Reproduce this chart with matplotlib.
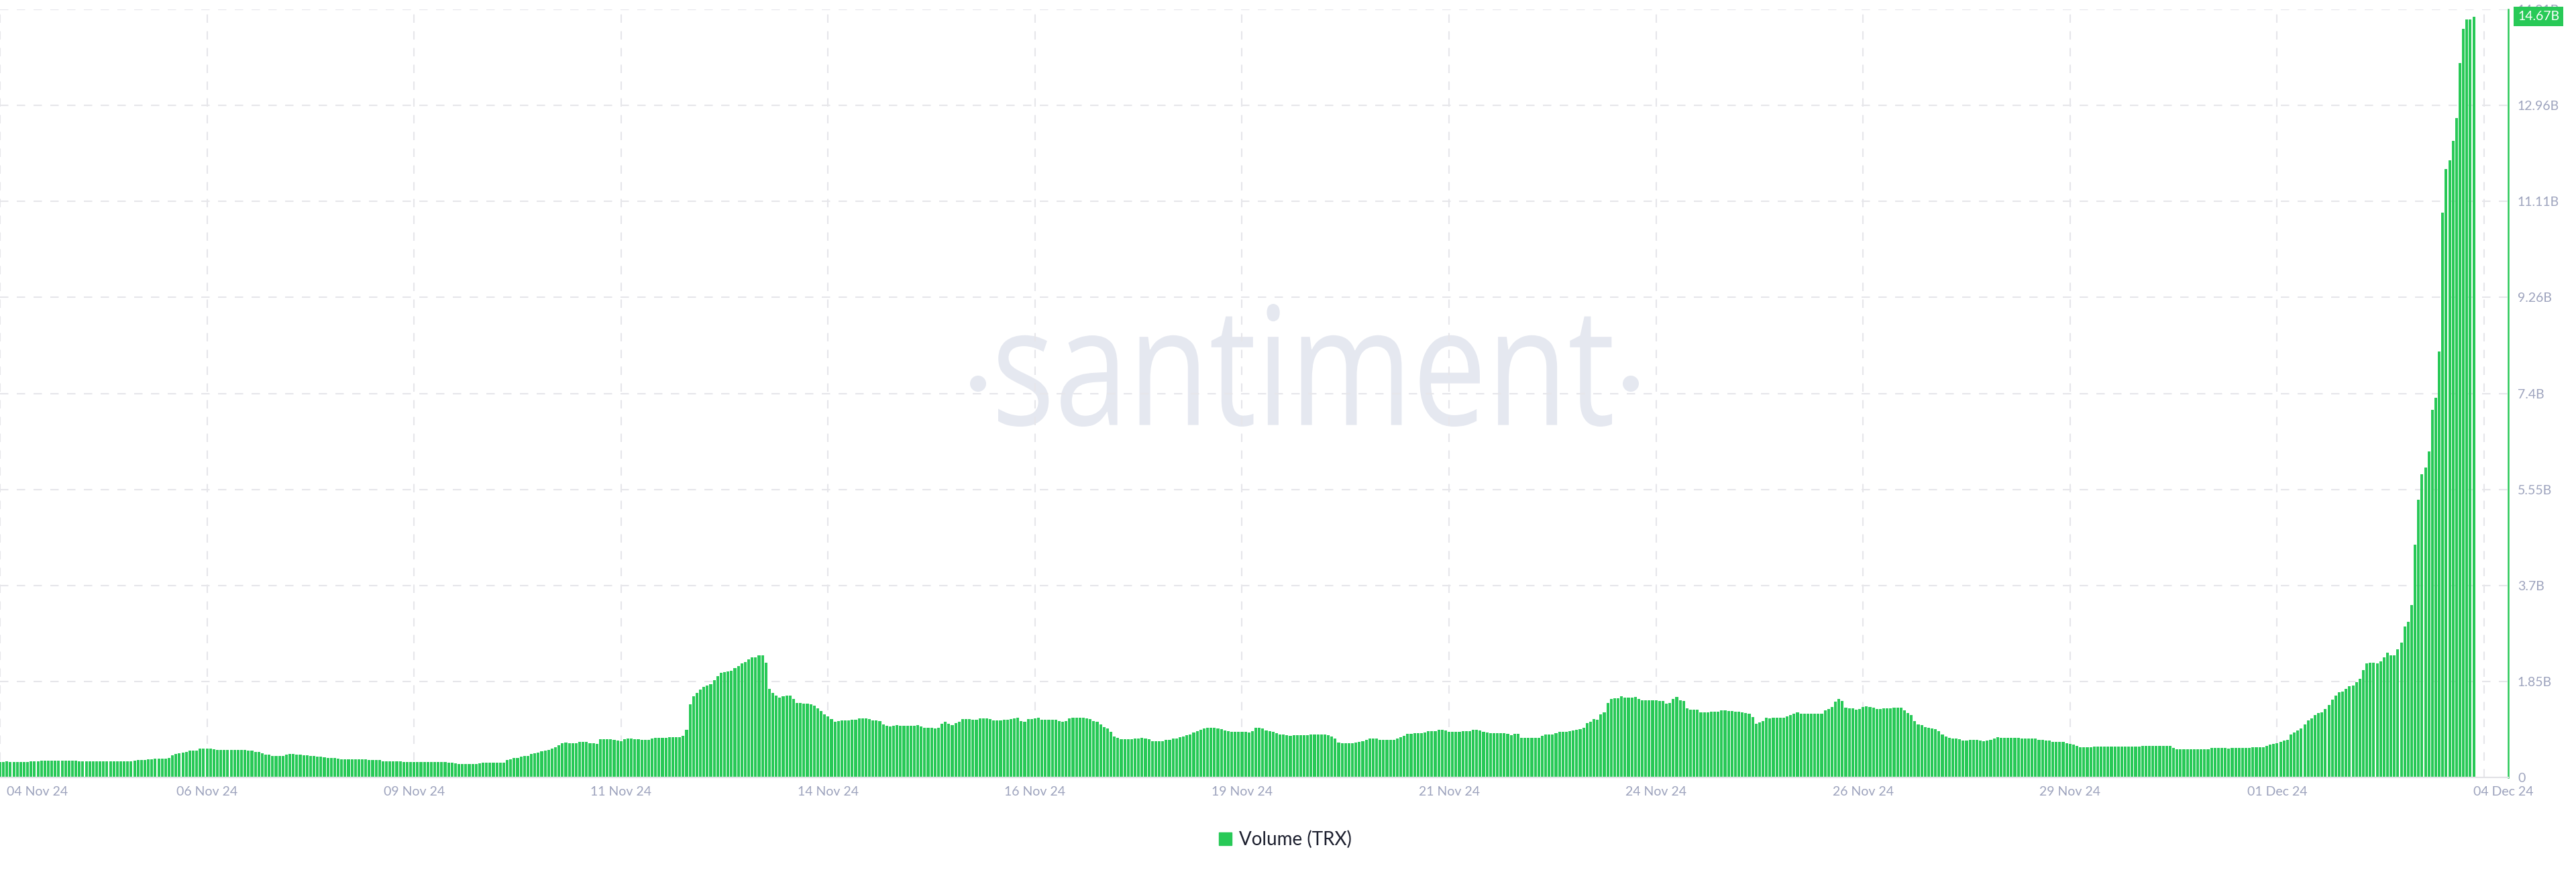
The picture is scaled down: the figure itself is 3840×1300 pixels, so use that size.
import numpy as np
import matplotlib
matplotlib.use('Agg')
import matplotlib.pyplot as plt
import matplotlib.transforms as mtransforms
from matplotlib.patches import Rectangle, PathPatch, Circle
from matplotlib.textpath import TextPath
from matplotlib.font_manager import FontProperties

# hourly TRX volume in billions, 04 Nov 24 00:00 onwards (one line per day)
volume_b = [
    0.30, 0.30, 0.315, 0.295, 0.293, 0.293, 0.295, 0.297, 0.298, 0.305, 0.31, 0.315, 0.32, 0.322, 0.323, 0.323, 0.322, 0.321, 0.32, 0.322, 0.323, 0.32, 0.318, 0.316,
    0.315, 0.314, 0.31, 0.307, 0.306, 0.306, 0.308, 0.31, 0.31, 0.31, 0.31, 0.31, 0.31, 0.312, 0.315, 0.32, 0.33, 0.335, 0.34, 0.345, 0.355, 0.36, 0.36, 0.36,
    0.362, 0.37, 0.427, 0.448, 0.461, 0.474, 0.496, 0.517, 0.517, 0.52, 0.552, 0.556, 0.556, 0.554, 0.543, 0.53, 0.526, 0.526, 0.526, 0.526, 0.526, 0.526, 0.528, 0.526,
    0.52, 0.513, 0.49, 0.487, 0.46, 0.44, 0.44, 0.414, 0.414, 0.414, 0.41, 0.44, 0.448, 0.448, 0.445, 0.44, 0.43, 0.427, 0.42, 0.41, 0.40, 0.395, 0.39, 0.38,
    0.375, 0.37, 0.36, 0.355, 0.355, 0.355, 0.355, 0.355, 0.353, 0.352, 0.35, 0.342, 0.342, 0.342, 0.34, 0.315, 0.31, 0.308, 0.308, 0.306, 0.305, 0.30, 0.297, 0.296,
    0.295, 0.295, 0.295, 0.295, 0.295, 0.296, 0.296, 0.295, 0.294, 0.292, 0.29, 0.282, 0.27, 0.262, 0.258, 0.256, 0.256, 0.256, 0.258, 0.273, 0.286, 0.29, 0.29, 0.29,
    0.29, 0.29, 0.29, 0.33, 0.355, 0.37, 0.38, 0.40, 0.41, 0.42, 0.455, 0.47, 0.485, 0.507, 0.52, 0.53, 0.55, 0.585, 0.624, 0.654, 0.667, 0.665, 0.66, 0.66,
    0.68, 0.69, 0.69, 0.66, 0.655, 0.65, 0.737, 0.737, 0.737, 0.735, 0.72, 0.71, 0.70, 0.732, 0.745, 0.75, 0.74, 0.735, 0.73, 0.728, 0.728, 0.75, 0.76, 0.763,
    0.763, 0.765, 0.775, 0.77, 0.776, 0.78, 0.805, 0.914, 1.41, 1.56, 1.625, 1.70, 1.745, 1.775, 1.80, 1.875, 1.95, 2.013, 2.03, 2.045, 2.056, 2.107, 2.142, 2.194,
    2.22, 2.28, 2.314, 2.32, 2.35, 2.357, 2.207, 1.71, 1.633, 1.573, 1.538, 1.56, 1.573, 1.575, 1.517, 1.44, 1.43, 1.425, 1.42, 1.41, 1.38, 1.33, 1.28, 1.215,
    1.172, 1.129, 1.073, 1.09, 1.095, 1.10, 1.105, 1.11, 1.114, 1.14, 1.14, 1.135, 1.127, 1.10, 1.095, 1.088, 1.027, 0.99, 0.98, 0.99, 1.01, 1.0, 1.0, 1.0,
    1.0, 1.0, 1.014, 0.98, 0.962, 0.953, 0.953, 0.94, 0.953, 1.036, 1.07, 1.04, 1.014, 1.049, 1.08, 1.127, 1.127, 1.127, 1.118, 1.118, 1.14, 1.14, 1.135, 1.13,
    1.105, 1.105, 1.105, 1.11, 1.114, 1.12, 1.135, 1.157, 1.092, 1.07, 1.127, 1.13, 1.135, 1.148, 1.114, 1.114, 1.114, 1.114, 1.11, 1.092, 1.07, 1.092, 1.135, 1.155,
    1.157, 1.155, 1.15, 1.135, 1.122, 1.092, 1.07, 1.018, 0.975, 0.94, 0.875, 0.789, 0.758, 0.732, 0.732, 0.732, 0.735, 0.75, 0.755, 0.758, 0.75, 0.737, 0.70, 0.695,
    0.693, 0.695, 0.72, 0.73, 0.745, 0.75, 0.776, 0.79, 0.81, 0.832, 0.862, 0.897, 0.923, 0.94, 0.962, 0.962, 0.962, 0.949, 0.927, 0.91, 0.888, 0.875, 0.875, 0.875,
    0.875, 0.875, 0.867, 0.897, 0.962, 0.96, 0.94, 0.91, 0.888, 0.875, 0.854, 0.832, 0.83, 0.815, 0.80, 0.81, 0.812, 0.815, 0.815, 0.815, 0.823, 0.825, 0.83, 0.832,
    0.832, 0.81, 0.789, 0.745, 0.672, 0.659, 0.659, 0.659, 0.659, 0.667, 0.68, 0.70, 0.724, 0.745, 0.745, 0.745, 0.724, 0.724, 0.724, 0.724, 0.724, 0.745, 0.776, 0.80,
    0.836, 0.845, 0.85, 0.852, 0.854, 0.867, 0.888, 0.897, 0.897, 0.919, 0.923, 0.906, 0.875, 0.875, 0.875, 0.875, 0.888, 0.888, 0.897, 0.914, 0.923, 0.901, 0.884, 0.862,
    0.854, 0.852, 0.85, 0.85, 0.848, 0.845, 0.819, 0.845, 0.845, 0.758, 0.758, 0.758, 0.758, 0.758, 0.758, 0.80, 0.823, 0.823, 0.823, 0.854, 0.875, 0.875, 0.875, 0.888,
    0.906, 0.919, 0.932, 0.962, 1.049, 1.079, 1.122, 1.114, 1.222, 1.257, 1.439, 1.517, 1.525, 1.525, 1.569, 1.54, 1.54, 1.545, 1.547, 1.517, 1.49, 1.49, 1.485, 1.485,
    1.485, 1.48, 1.48, 1.417, 1.439, 1.517, 1.556, 1.49, 1.48, 1.33, 1.30, 1.30, 1.30, 1.261, 1.261, 1.261, 1.265, 1.27, 1.27, 1.287, 1.287, 1.278, 1.275, 1.272,
    1.27, 1.261, 1.244, 1.23, 1.17, 1.04, 1.057, 1.092, 1.157, 1.135, 1.148, 1.15, 1.155, 1.157, 1.179, 1.209, 1.23, 1.252, 1.235, 1.23, 1.228, 1.226, 1.226, 1.23,
    1.235, 1.287, 1.317, 1.352, 1.46, 1.512, 1.469, 1.339, 1.33, 1.33, 1.30, 1.317, 1.36, 1.374, 1.36, 1.339, 1.32, 1.32, 1.33, 1.335, 1.335, 1.34, 1.343, 1.343,
    1.287, 1.244, 1.20, 1.083, 1.027, 1.005, 0.975, 0.958, 0.94, 0.932, 0.888, 0.832, 0.789, 0.767, 0.754, 0.75, 0.732, 0.715, 0.715, 0.724, 0.724, 0.72, 0.711, 0.70,
    0.71, 0.73, 0.75, 0.777, 0.758, 0.758, 0.758, 0.758, 0.758, 0.758, 0.755, 0.748, 0.748, 0.748, 0.748, 0.73, 0.72, 0.715, 0.71, 0.68, 0.68, 0.68, 0.68, 0.665,
    0.652, 0.633, 0.605, 0.585, 0.585, 0.585, 0.585, 0.595, 0.60, 0.60, 0.60, 0.598, 0.595, 0.595, 0.595, 0.595, 0.595, 0.60, 0.60, 0.598, 0.595, 0.614, 0.614, 0.614,
    0.614, 0.614, 0.614, 0.614, 0.614, 0.61, 0.566, 0.537, 0.537, 0.537, 0.537, 0.537, 0.537, 0.537, 0.537, 0.537, 0.54, 0.575, 0.575, 0.575, 0.575, 0.575, 0.55, 0.566,
    0.566, 0.566, 0.566, 0.566, 0.57, 0.585, 0.585, 0.585, 0.585, 0.614, 0.64, 0.652, 0.66, 0.68, 0.71, 0.729, 0.825, 0.863, 0.90, 0.95, 1.017, 1.103, 1.141, 1.20,
    1.237, 1.256, 1.323, 1.40, 1.496, 1.582, 1.64, 1.659, 1.707, 1.755, 1.774, 1.832, 1.899, 2.071, 2.196, 2.206, 2.215, 2.196, 2.234, 2.311, 2.407, 2.35, 2.35, 2.474,
    2.599, 2.906, 3.0, 3.318, 4.488, 5.35, 5.84, 5.975, 6.29, 7.087, 7.317, 8.219, 10.89, 11.73, 11.90, 12.27, 12.72, 13.78, 14.43, 14.61, 14.61, 14.67,
]

# x ticks every 60 hours (2.5 days), labels as shown on the chart
tick_hours = [0, 60, 120, 180, 240, 300, 360, 420, 480, 540, 600, 660, 720]
tick_labels = ['04 Nov 24', '06 Nov 24', '09 Nov 24', '11 Nov 24', '14 Nov 24', '16 Nov 24',
               '19 Nov 24', '21 Nov 24', '24 Nov 24', '26 Nov 24', '29 Nov 24', '01 Dec 24', '04 Dec 24']

y_top = 14.81
ytick_vals = [y_top * k / 8 for k in range(9)]
ytick_labels = ['0', '1.85B', '3.7B', '5.55B', '7.4B', '9.26B', '11.11B', '12.96B', '14.81B']

legend_label = 'Volume (TRX)'
watermark = 'santiment'

GREEN = '#28c957'
GRAY = '#9da3bd'
GRID = '#e6e6ea'

plt.rcParams['font.family'] = ['Lato', 'DejaVu Sans']

W, H = 3840, 1300
fig = plt.figure(figsize=(W / 100, H / 100), dpi=100)
ax = fig.add_axes([0, 1 - 1159 / H, 3739 / W, (1159 - 14) / H])

# watermark, squeezed horizontally like the santiment logo
tp = TextPath((0, 0), watermark, size=100, prop=FontProperties(family='Open Sans'))
bb = tp.get_extents()
x0, x1, y0, y1 = 1488, 2403, H - 636, H - 453
tr = (mtransforms.Affine2D().translate(-bb.x0, -bb.y0)
      .scale((x1 - x0) / bb.width, (y1 - y0) / bb.height).translate(x0, y0))
wm = PathPatch(tp, transform=tr, fc='#e5e8f0', ec='none', zorder=0.1)
ax.add_artist(wm)
for cx in (1458, 2431):
    ax.add_artist(Circle((cx, H - 572), 12, transform=mtransforms.IdentityTransform(),
                         fc='#e5e8f0', ec='none', zorder=0.1))

hours = np.arange(len(volume_b))
ax.bar(hours, volume_b, width=0.8, color=GREEN, linewidth=0, zorder=2)

ax.set_xlim(0, 727)
ax.set_ylim(0, y_top)
ax.set_axisbelow(True)
ax.set_xticks(tick_hours)
ax.set_xticklabels([])
ax.yaxis.tick_right()
ax.set_yticks(ytick_vals)
ax.set_yticklabels(ytick_labels)
ax.tick_params(axis='y', length=0, pad=10, labelsize=14, labelcolor=GRAY)
ax.tick_params(axis='x', length=0)
ax.grid(True, color=GRID, lw=1.5, linestyle=(0, (6, 6)))

for s in ('top', 'left'):
    ax.spines[s].set_visible(False)
ax.spines['right'].set_color(GREEN)
ax.spines['right'].set_linewidth(1.8)
ax.spines['bottom'].set_color('#e2e2e6')
ax.spines['bottom'].set_linewidth(1.5)

# date labels, first one pinned to the left edge
for k, (h, lab) in enumerate(zip(tick_hours, tick_labels)):
    ha, dx = 'center', 0
    if k == 0:
        ha, dx = 'left', 10
    elif k == len(tick_labels) - 1:
        dx = 29
    t = mtransforms.offset_copy(ax.get_xaxis_transform(), fig=fig, x=dx, y=-21, units='dots')
    ax.text(h, 0, lab, transform=t, ha=ha, va='center', fontsize=14, color=GRAY)

# last value badge on the right axis (covers the top tick label, as in the app)
badge_tr = mtransforms.offset_copy(
    mtransforms.blended_transform_factory(ax.transAxes, ax.transData),
    fig=fig, x=14, y=0, units='dots')
ax.text(1, volume_b[-1], f'{volume_b[-1]:.2f}B', transform=badge_tr, ha='left', va='center',
        color='white', fontsize=14, zorder=5, clip_on=False,
        bbox=dict(boxstyle='square,pad=0.3', fc=GREEN, ec='none'))

# legend
fig.add_artist(Rectangle((1817 / W, 1 - 1260 / H), 19 / W, 19 / H,
                         transform=fig.transFigure, color=GREEN))
fig.text(1847 / W, 1 - 1251 / H, legend_label, ha='left', va='center',
         fontsize=20, color='#1c1f2e')

fig.savefig('out.png', dpi=100, facecolor='white')
